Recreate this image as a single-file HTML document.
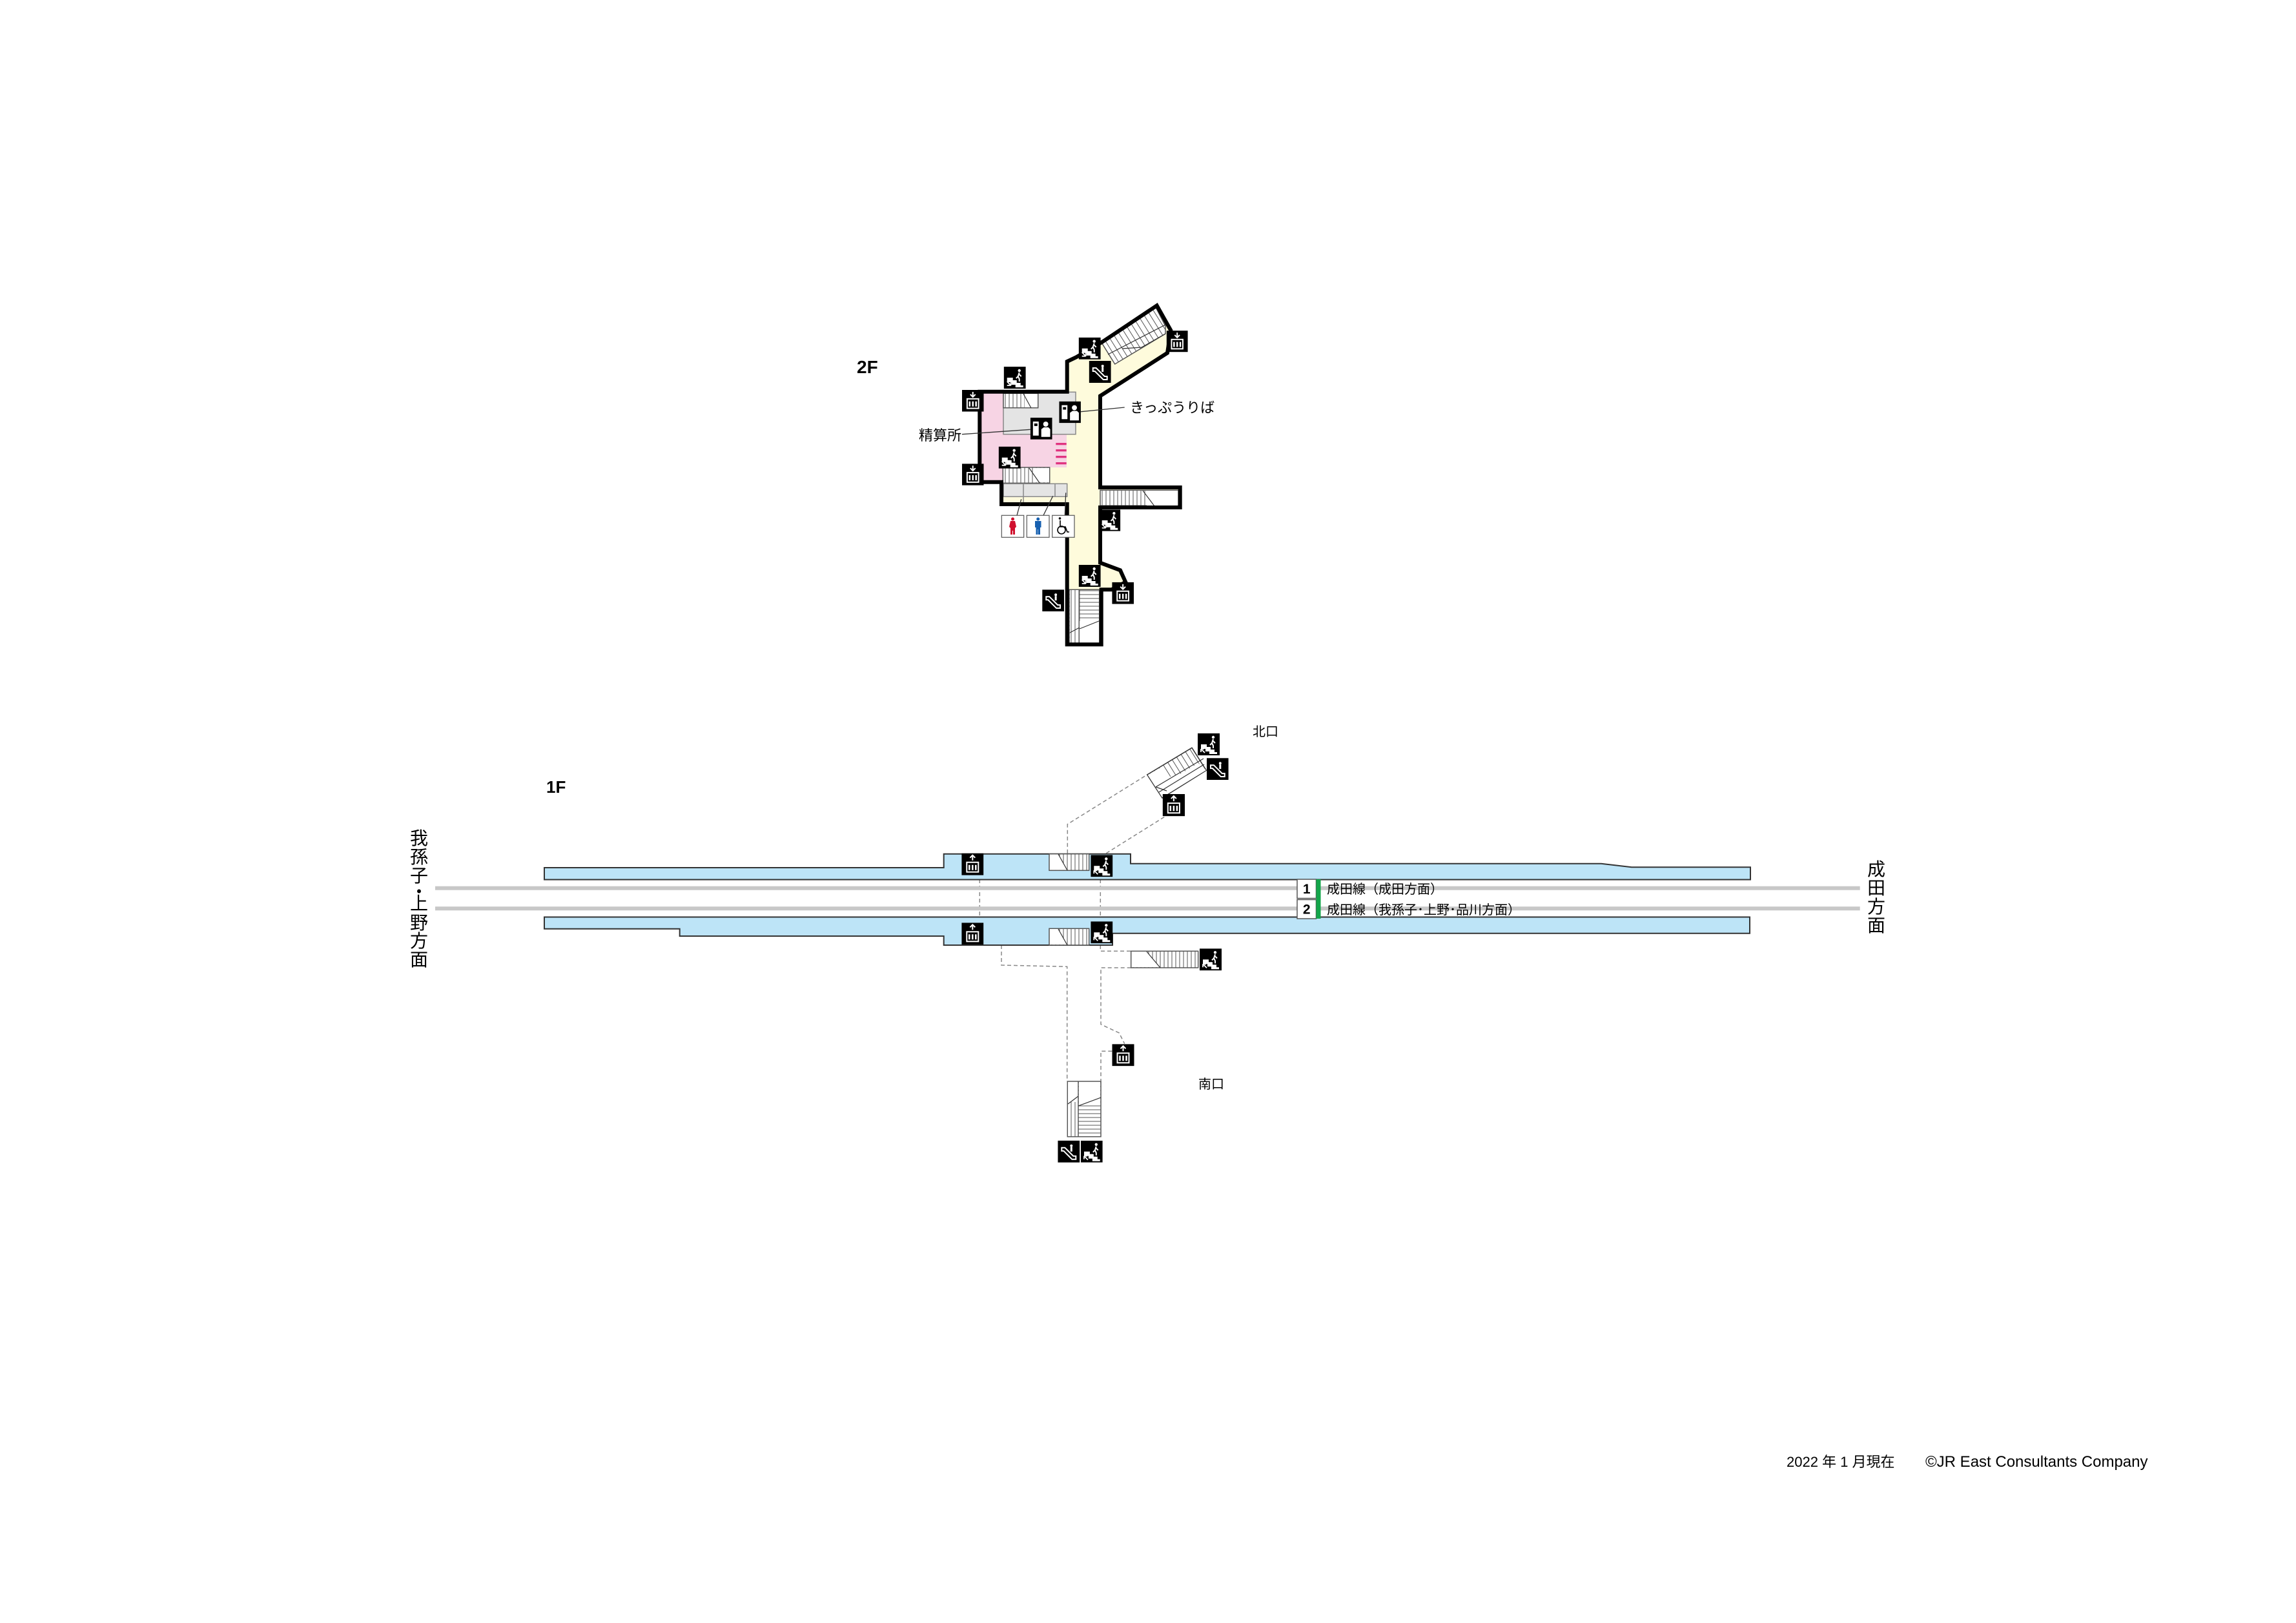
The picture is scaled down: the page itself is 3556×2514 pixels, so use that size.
<!DOCTYPE html>
<html><head><meta charset="utf-8"><style>
html,body{margin:0;padding:0;background:#fff;}
svg{display:block;}
text{font-family:"Liberation Sans","Noto Sans CJK JP",sans-serif;fill:#000;}
</style></head><body>
<svg width="3556" height="2514" viewBox="0 0 3556 2514" xmlns="http://www.w3.org/2000/svg">
<defs>
<symbol id="st" viewBox="0 0 34 34">
<rect width="34" height="34" fill="#000"/>
<path d="M5 17h9v4h6v4h6v4h4v3H18v-4h-6v-4H5z" fill="#fff"/>
<circle cx="24" cy="6" r="2.2" fill="#fff"/>
<path d="M24 9l-2 6 2 4v4M22 15l-3 3M24 12l3 3" stroke="#fff" stroke-width="2" fill="none"/>
<path d="M5 23l6 6M5 29h6M11 23v6" stroke="#fff" stroke-width="1.8" fill="none"/>
</symbol>
<symbol id="su" viewBox="0 0 34 34">
<rect width="34" height="34" fill="#000"/>
<path d="M5 17h9v4h6v4h6v4h4v3H18v-4h-6v-4H5z" fill="#fff"/>
<circle cx="24" cy="6" r="2.2" fill="#fff"/>
<path d="M24 9l-2 6 2 4v4M22 15l-3 3M24 12l3 3" stroke="#fff" stroke-width="2" fill="none"/>
<path d="M11 30l-6-6M5 24h5M5 24v5" stroke="#fff" stroke-width="1.8" fill="none"/>
</symbol>
<symbol id="es" viewBox="0 0 34 34">
<rect width="34" height="34" fill="#000"/>
<path d="M6 11h5l13 13h4v5h-6L9 16H6z" fill="none" stroke="#fff" stroke-width="2"/>
<circle cx="21" cy="8" r="2" fill="#fff"/>
<path d="M21 10v7" stroke="#fff" stroke-width="3"/>
</symbol>
<symbol id="ev" viewBox="0 0 34 34">
<rect width="34" height="34" fill="#000"/>
<path d="M17 3v8M13 7l4 4 4-4" stroke="#fff" stroke-width="2" fill="none"/>
<rect x="8" y="14" width="18" height="15" fill="none" stroke="#fff" stroke-width="2"/>
<path d="M12 18v8M17 18v8M22 18v8" stroke="#fff" stroke-width="2.5"/>
</symbol>
<symbol id="eu" viewBox="0 0 34 34">
<rect width="34" height="34" fill="#000"/>
<path d="M17 11V3M13 7l4-4 4 4" stroke="#fff" stroke-width="2" fill="none"/>
<rect x="8" y="14" width="18" height="15" fill="none" stroke="#fff" stroke-width="2"/>
<path d="M12 18v8M17 18v8M22 18v8" stroke="#fff" stroke-width="2.5"/>
</symbol>
<symbol id="tk" viewBox="0 0 34 34">
<rect width="34" height="34" fill="#000"/>
<rect x="4" y="6" width="9" height="22" fill="#fff"/>
<rect x="6" y="9" width="5" height="4" fill="#000"/>
<circle cx="24" cy="10" r="4" fill="#fff"/>
<path d="M17 30v-12l4-3h7l3 3v12z" fill="#fff"/>
</symbol>
<pattern id="hv" width="6" height="6" patternUnits="userSpaceOnUse"><rect width="6" height="6" fill="#fff"/><path d="M3 0v6" stroke="#555" stroke-width="1"/></pattern>
<pattern id="hh" width="6" height="6" patternUnits="userSpaceOnUse"><rect width="6" height="6" fill="#fff"/><path d="M0 3h6" stroke="#555" stroke-width="1"/></pattern>
<pattern id="hd" width="8" height="8" patternUnits="userSpaceOnUse" patternTransform="rotate(-32)"><rect width="8" height="8" fill="#fff"/><path d="M4 0v8" stroke="#555" stroke-width="1"/></pattern>
</defs>

<!-- ===== 2F ===== -->
<text x="1327" y="578" font-size="28" font-weight="bold">2F</text>
<polygon points="1652.7,560 1666.7,553.3 1706.7,530 1791.7,473.3 1813.3,511.7 1808,546.7 1704,613.3 1704,755 1827.7,755 1827.7,786 1704,786 1704,871.7 1735,883.3 1743.3,901.7 1721.7,913.3 1705.7,913.3 1705.7,998.3 1652.7,998.3 1652.7,781 1551,781 1551,746.7 1517.3,746.7 1517.3,606.7 1652.7,606.7" fill="#fefbdc"/>
<rect x="1517" y="607" width="135" height="117" fill="#f7d4e4"/>
<rect x="1517" y="724" width="36" height="23" fill="#f7d4e4"/>
<rect x="1554" y="607.3" width="112" height="65.4" fill="#e4e4e4" stroke="#888" stroke-width="1.5"/>
<rect x="1554" y="609.3" width="53.7" height="22.4" fill="url(#hv)" stroke="#555" stroke-width="1.5"/>
<rect x="1587" y="610" width="20" height="21" fill="#fff"/>
<path d="M1585 610l12 22" stroke="#333" stroke-width="1.2"/>
<rect x="1553.3" y="724" width="72.4" height="24.3" fill="url(#hv)" stroke="#555" stroke-width="1.5"/>
<rect x="1600" y="725" width="25" height="22" fill="#fff"/>
<path d="M1594 725l16 23" stroke="#333" stroke-width="1.2"/>
<rect x="1554" y="749.3" width="98.7" height="20" fill="#e4e4e4" stroke="#888" stroke-width="1.5"/>
<path d="M1585 749v32M1634 749v20" stroke="#888" stroke-width="1.5"/>
<rect x="1586" y="770" width="66" height="11" fill="#fefbdc"/>
<g fill="#e0337f"><rect x="1635.3" y="686" width="16.4" height="3.3"/><rect x="1635.3" y="696" width="16.4" height="3.3"/><rect x="1635.3" y="706" width="16.4" height="3.3"/><rect x="1635.3" y="716" width="16.4" height="3.3"/></g>
<rect x="1704" y="759.3" width="121" height="24" fill="url(#hv)" stroke="#555" stroke-width="1.5"/>
<rect x="1776" y="760" width="48" height="23" fill="#fff"/>
<path d="M1770 760l18 24" stroke="#333" stroke-width="1.2"/>
<rect x="1656" y="913.3" width="46.7" height="83.4" fill="url(#hh)" stroke="#555" stroke-width="1.5"/>
<rect x="1657" y="914" width="14.7" height="82" fill="url(#hv)"/>
<path d="M1671.7 913v84" stroke="#555" stroke-width="1.5"/>
<rect x="1672" y="962" width="30" height="34" fill="#fff"/>
<path d="M1672 974l30-12M1657 980l15-8" stroke="#333" stroke-width="1.2"/>
<polygon points="1706.7,531.7 1790,476 1805,505 1805,517 1726.7,564" fill="url(#hd)" stroke="#555" stroke-width="1.5"/>
<path d="M1716 549l89-46M1738 540l30-2 37-21" stroke="#333" stroke-width="1.2" fill="none"/>
<polygon points="1652.7,560 1666.7,553.3 1706.7,530 1791.7,473.3 1813.3,511.7 1808,546.7 1704,613.3 1704,755 1827.7,755 1827.7,786 1704,786 1704,871.7 1735,883.3 1743.3,901.7 1721.7,913.3 1705.7,913.3 1705.7,998.3 1652.7,998.3 1652.7,781 1551,781 1551,746.7 1517.3,746.7 1517.3,606.7 1652.7,606.7" fill="none" stroke="#000" stroke-width="6" stroke-linejoin="miter"/>
<!-- 2F leaders -->
<path d="M1674 637.7L1741.7 631M1490 672.7L1595.7 665.3M1575 798.3L1581.7 773.3M1616 798.3L1630.7 768.3M1649.3 798.3L1650.7 763.3" stroke="#333" stroke-width="1.3" fill="none"/>
<!-- 2F icons -->
<use href="#st" x="1670.7" y="522.7" width="34" height="34"/>
<use href="#es" x="1686.7" y="559" width="34" height="34"/>
<use href="#ev" x="1806.7" y="511.7" width="33" height="34"/>
<use href="#st" x="1554.7" y="568" width="34" height="34"/>
<use href="#ev" x="1490" y="604" width="33.5" height="33.5"/>
<use href="#tk" x="1640.3" y="621.7" width="33.7" height="33.5"/>
<use href="#tk" x="1595.7" y="647" width="34" height="33.7"/>
<use href="#st" x="1546.7" y="691.7" width="34" height="34"/>
<use href="#ev" x="1490" y="718.3" width="33.5" height="33.5"/>
<use href="#st" x="1701.7" y="789.3" width="33.6" height="33.4"/>
<use href="#st" x="1670.7" y="875" width="34" height="34"/>
<use href="#ev" x="1722.3" y="901.7" width="33.7" height="34"/>
<use href="#es" x="1614" y="913.3" width="34.3" height="33.7"/>
<!-- toilets -->
<rect x="1551.3" y="798.3" width="34.4" height="34" fill="#fff" stroke="#555" stroke-width="1.2"/>
<g fill="#d0102e"><circle cx="1568.5" cy="804" r="2.5"/><path d="M1565 807h7l2 9-2 2v10h-3v-6h-1v6h-3v-10l-2-2z"/></g>
<rect x="1590.3" y="798.3" width="34.7" height="34" fill="#fff" stroke="#555" stroke-width="1.2"/>
<g fill="#1760b0"><circle cx="1607.7" cy="804" r="2.5"/><path d="M1603 807h9.5v10h-1.5v11h-3v-8h-0.5v8h-3v-11h-1.5z"/></g>
<rect x="1629.7" y="798.3" width="34.3" height="34" fill="#fff" stroke="#555" stroke-width="1.2"/>
<g stroke="#000" stroke-width="1.6" fill="none"><circle cx="1644" cy="821" r="6"/><path d="M1642 806v10h8l3 8h3"/></g><circle cx="1641.5" cy="803" r="1.8" fill="#000"/>
<!-- 2F labels -->
<text x="1750" y="639" font-size="22">きっぷうりば</text>
<text x="1423" y="682" font-size="22">精算所</text>

<!-- ===== 1F ===== -->
<text x="846" y="1228" font-size="26" font-weight="bold">1F</text>
<g stroke="#888" stroke-width="1.5" stroke-dasharray="6,4" fill="none">
<path d="M1653.3 1321.7V1276.7L1776.7 1200"/>
<path d="M1713.3 1321.7L1806.7 1263.3"/>
<path d="M1523 1322.7H1625"/>
<path d="M1517.3 1362V1421M1704.3 1362V1421"/>
<path d="M1551 1464V1495L1652.7 1497.3V1675"/>
<path d="M1704.3 1464V1473.3H1751.7"/>
<path d="M1751.7 1499H1705V1586.7L1733.3 1600L1741.7 1616.7"/>
<path d="M1722.3 1628.3H1705V1675"/>
</g>
<path d="M674 1375.7H2880.7M674 1407.3H2880.7" stroke="#c8c8c8" stroke-width="6"/>
<polygon points="843,1344 1461.7,1344 1461.7,1322.7 1751,1322.7 1751,1337.7 2480,1337.7 2527,1343.3 2711,1343.3 2711,1362.5 843,1362.5" fill="#bde4f7" stroke="#333" stroke-width="2"/>
<polygon points="843,1420.5 2710,1420.5 2710,1445.7 1723,1445.7 1723,1464 1461.7,1464 1461.7,1450 1052.7,1450 1052.7,1438.7 843,1438.7" fill="#bde4f7" stroke="#333" stroke-width="2"/>
<rect x="1625" y="1322.7" width="61.7" height="25.6" fill="url(#hv)" stroke="#555" stroke-width="1.5"/>
<polygon points="1626,1323.5 1639,1323.5 1652.7,1347.5 1626,1347.5" fill="#fff"/>
<path d="M1639 1323l14 25" stroke="#333" stroke-width="1.2"/>
<rect x="1625" y="1438.3" width="61.7" height="25.7" fill="url(#hv)" stroke="#555" stroke-width="1.5"/>
<polygon points="1626,1439 1639,1439 1652.7,1463 1626,1463" fill="#fff"/>
<path d="M1639 1439l14 25" stroke="#333" stroke-width="1.2"/>
<use href="#eu" x="1489.3" y="1321.7" width="34" height="34"/>
<use href="#su" x="1689.3" y="1324.3" width="34" height="34"/>
<use href="#eu" x="1489.3" y="1429.3" width="34" height="34"/>
<use href="#su" x="1689.3" y="1427.3" width="34" height="34"/>
<polygon points="1776.7,1200 1846,1158.3 1868.3,1193.3 1800,1236" fill="url(#hd)" stroke="#333" stroke-width="1.5"/>
<polygon points="1777.7,1200.5 1796,1190 1809,1204 1830,1198 1856,1182 1868,1193 1800,1235" fill="#fff"/>
<path d="M1790 1219l74-44M1795 1227l70-43M1790 1219l17 6" stroke="#333" stroke-width="1.2" fill="none"/>
<use href="#su" x="1855" y="1136" width="34" height="34"/>
<use href="#es" x="1869" y="1174" width="33.7" height="34.3"/>
<use href="#eu" x="1800.7" y="1230" width="34.3" height="34.3"/>
<text x="1940" y="1140" font-size="20">北口</text>
<rect x="1751.7" y="1473.3" width="104" height="25.7" fill="url(#hv)" stroke="#555" stroke-width="1.5"/>
<polygon points="1752.5,1474 1776,1474 1797,1498 1752.5,1498" fill="#fff"/>
<path d="M1776 1474l21 25" stroke="#333" stroke-width="1.2"/>
<use href="#su" x="1857.7" y="1469.3" width="34.6" height="34"/>
<use href="#eu" x="1722.3" y="1617.3" width="34.4" height="34"/>
<rect x="1653.3" y="1675" width="51.7" height="85.7" fill="url(#hh)" stroke="#555" stroke-width="1.5"/>
<rect x="1654" y="1676" width="16" height="84" fill="url(#hv)"/>
<rect x="1671" y="1676" width="33" height="36" fill="#fff"/>
<rect x="1654" y="1676" width="15.5" height="31" fill="#fff"/>
<path d="M1670 1675v86" stroke="#555" stroke-width="1.5"/>
<path d="M1670 1713l35-13M1654 1710l16-12" stroke="#333" stroke-width="1.2"/>
<use href="#es" x="1638.3" y="1766.7" width="34" height="34"/>
<use href="#su" x="1674" y="1766.7" width="33.7" height="34"/>
<text x="1856" y="1686" font-size="20">南口</text>
<rect x="2009" y="1362" width="29.5" height="29.5" fill="#fff" stroke="#555" stroke-width="1.5"/>
<rect x="2009" y="1393.5" width="29.5" height="29.5" fill="#fff" stroke="#555" stroke-width="1.5"/>
<rect x="2038.5" y="1362" width="7" height="61" fill="#13a54a"/>
<text x="2023.7" y="1384" font-size="21" font-weight="bold" text-anchor="middle">1</text>
<text x="2023.7" y="1415.5" font-size="21" font-weight="bold" text-anchor="middle">2</text>
<text x="2055" y="1384" font-size="20">成田線（成田方面）</text>
<text x="2055" y="1416" font-size="20">成田線（我孫子･上野･品川方面）</text>
<g font-size="28" text-anchor="middle">
<text x="649" y="1308">我</text><text x="649" y="1337">孫</text><text x="649" y="1366">子</text><text x="649" y="1391">・</text><text x="649" y="1409">上</text><text x="649" y="1439">野</text><text x="649" y="1467">方</text><text x="649" y="1496">面</text>
<text x="2906" y="1356">成</text><text x="2906" y="1385">田</text><text x="2906" y="1414">方</text><text x="2906" y="1443">面</text>
</g>
<text x="2767" y="2272" font-size="22">2022 年 1 月現在</text>
<text x="2982" y="2272" font-size="24">©JR East Consultants Company</text>
</svg>
</body></html>
